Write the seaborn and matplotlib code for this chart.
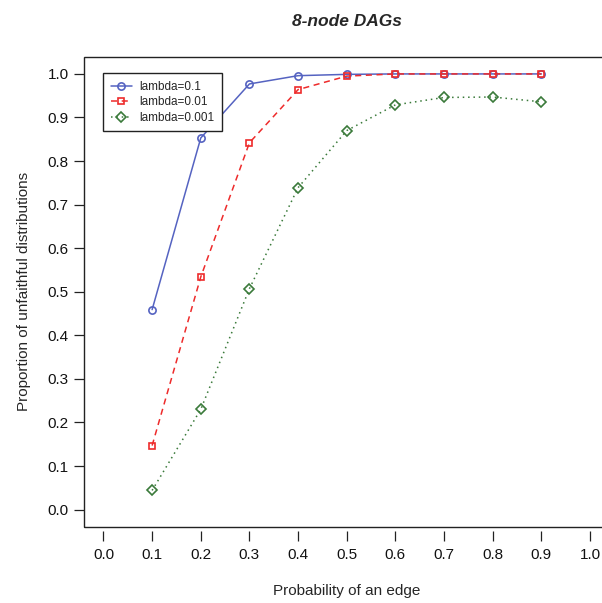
import pandas as pd
import matplotlib
matplotlib.use("Agg")
import matplotlib.pyplot as plt
import seaborn as sns
from matplotlib.patches import Rectangle

# --- Daten ---
edge_prob = [0.1, 0.2, 0.3, 0.4, 0.5, 0.6, 0.7, 0.8, 0.9]
lam_01 = [0.459, 0.853, 0.977, 0.996, 0.999, 1.0, 1.0, 1.0, 1.0]
lam_001 = [0.147, 0.534, 0.842, 0.964, 0.995, 1.0, 1.0, 1.0, 1.0]
lam_0001 = [0.044, 0.230, 0.507, 0.739, 0.870, 0.929, 0.946, 0.947, 0.936]

series_names = ["lambda=0.1", "lambda=0.01", "lambda=0.001"]
series_values = [lam_01, lam_001, lam_0001]
xticks = [0.0, 0.1, 0.2, 0.3, 0.4, 0.5, 0.6, 0.7, 0.8, 0.9, 1.0]
yticks = [0.0, 0.1, 0.2, 0.3, 0.4, 0.5, 0.6, 0.7, 0.8, 0.9, 1.0]

df = pd.concat(
    [pd.DataFrame({"p": edge_prob, "prop": v, "series": n})
     for n, v in zip(series_names, series_values)],
    ignore_index=True,
)

sns.set_style("white")
plt.rcParams["font.family"] = ["Liberation Sans", "DejaVu Sans"]

# Stile im R-Look
styles = {
    "lambda=0.1": dict(color="#5563C1", marker="o", ls="-", ms=5.2),
    "lambda=0.01": dict(color="#EE2B2B", marker="s", ls=(0, (4, 3)), ms=5.0),
    "lambda=0.001": dict(color="#3A7A3A", marker="D", ls=(0, (1, 2.5)), ms=4.6),
}

fig = plt.figure(figsize=(6.02, 6.03), dpi=100)
ax = fig.add_axes([84 / 602, 1 - 527 / 603, 525.5 / 602, 470.5 / 603])

for name in series_names:
    st = styles[name]
    sub = df[df["series"] == name]
    sns.lineplot(
        data=sub, x="p", y="prop", ax=ax, color=st["color"],
        linestyle=st["ls"], linewidth=1.1, marker=st["marker"],
        markersize=st["ms"], markerfacecolor="none",
        markeredgecolor=st["color"], markeredgewidth=1.2,
        label=name,
    )

ax.set_xlim(-0.04, 1.04)
ax.set_ylim(-0.04, 1.04)
ax.set_xticks(xticks)
ax.set_xticklabels([f"{t:.1f}" for t in xticks])
ax.set_yticks(yticks)
ax.set_yticklabels([f"{t:.1f}" for t in yticks])

# Box um die Plotfläche, x-Achse leicht abgesetzt
for s in ["top", "right", "left", "bottom"]:
    ax.spines[s].set_visible(False)
ax.spines["bottom"].set_position(("outward", 3))
ax.add_patch(Rectangle((0, 0), 1, 1, transform=ax.transAxes, fill=False,
                       edgecolor="#222222", linewidth=1.0, clip_on=False))

ax.tick_params(axis="both", direction="out", length=7, width=0.9,
               color="#222222", labelsize=11, labelcolor="#111111",
               bottom=True, left=True)
ax.tick_params(axis="x", pad=5)
ax.tick_params(axis="y", pad=4)

ax.set_xlabel("Probability of an edge", fontsize=11, labelpad=16)
ax.set_ylabel("Proportion of unfaithful distributions", fontsize=11, labelpad=12)
ax.set_title("8-node DAGs", fontsize=12.5, fontweight="bold", style="italic", pad=22)

leg = ax.legend(loc="upper left", bbox_to_anchor=(0.036, 0.965), fontsize=8.5,
                frameon=True, fancybox=False, edgecolor="#222222",
                framealpha=1.0, handlelength=1.8, handletextpad=0.6,
                borderpad=0.65, labelspacing=0.3, borderaxespad=0)
leg.get_frame().set_linewidth(1.0)
leg.set_zorder(10)

fig.savefig("out.png", dpi=100)
